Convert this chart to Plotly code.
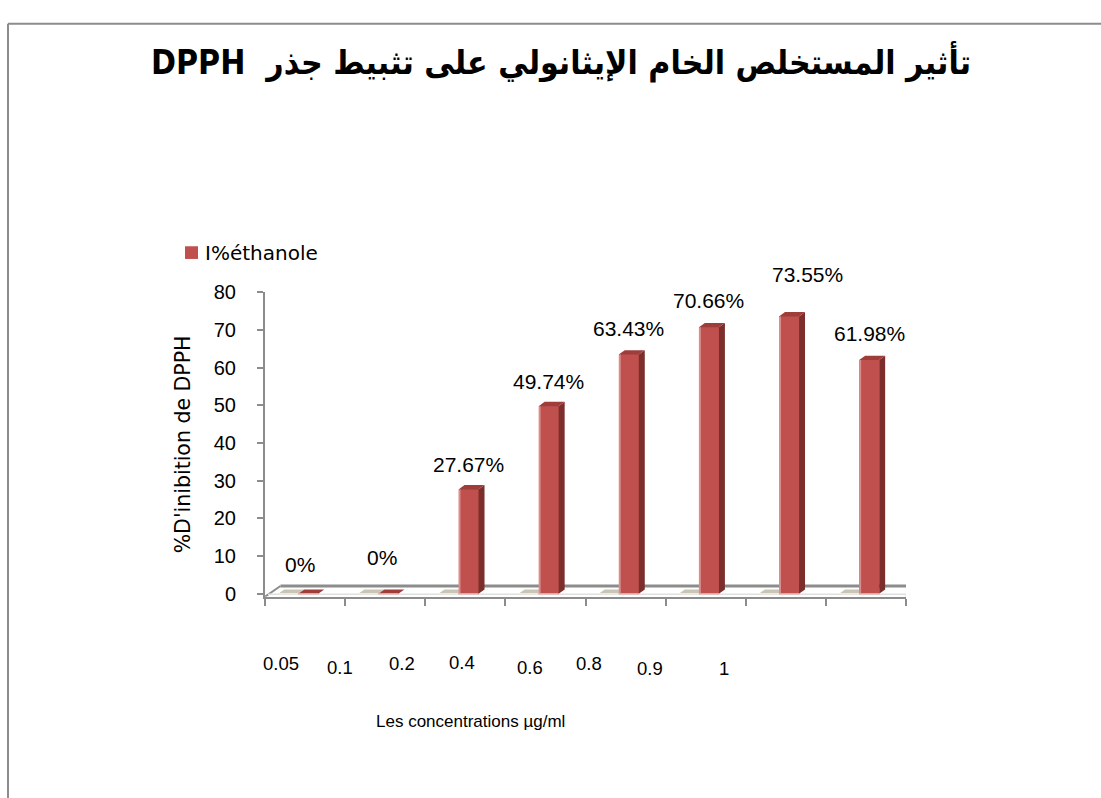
import plotly.graph_objects as go

# ---- data ----
categories = ["0.05", "0.1", "0.2", "0.4", "0.6", "0.8", "0.9", "1"]
inhibition_ethanol = [0, 0, 27.67, 49.74, 63.43, 70.66, 73.55, 61.98]
second_series = [0, 0, 0, 0, 0, 0, 0, 0]
y_ticks = [0, 10, 20, 30, 40, 50, 60, 70, 80]
series_name = "I%éthanole"
title_text = "DPPH  تأثير المستخلص الخام الإيثانولي على تثبيط جذر"
y_title = "%D'inibition de DPPH"
x_title = "Les concentrations µg/ml"

# ---- layout geometry (pixels) ----
W, H = 1101, 798
X_LEFT, X_RIGHT = 265, 906
Y_BOTTOM, Y_TOP = 600, 288
X_RANGE = [-0.5, 7.5]
Y_RANGE = [-0.78, 80]
PX_X = (X_RIGHT - X_LEFT) / (X_RANGE[1] - X_RANGE[0])
PX_Y = (Y_BOTTOM - Y_TOP) / (Y_RANGE[1] - Y_RANGE[0])

RED = "#C0504D"
RED_TOP = "#9E3D3A"
RED_SIDE = "#7B2E2C"
RED_HL = "#D98E8B"
GRAY_TOP = "#C9C4B6"
AXIS = "#8C8C8C"

BAR_W = 0.25
RED_OFF = 0.04
GRAY_OFF = -0.21
DX = 6 / PX_X
DY = 4.5 / PX_Y

# label placement tweaks (pixels)
label_xshift = [-8, -6, 0, 0, 0, 0, 18, 0]
label_yshift = [29, 36, 25, 25, 26, 27, 42, 27]
cat_label_x = [281, 340, 402, 462, 530, 589, 650, 724]
cat_label_y = [668, 672, 668, 667, 673, 668, 674, 674]

idx = list(range(len(categories)))

fig = go.Figure()
fig.add_trace(go.Bar(
    x=[i + RED_OFF for i in idx], y=inhibition_ethanol, width=BAR_W,
    marker=dict(color=RED, line=dict(width=0)), name=series_name,
    showlegend=False, hoverinfo="y",
))

shapes = []
# floor
fl_y = Y_RANGE[0] + 11 / PX_Y
fl_dx = 15.5 / PX_X
shapes.append(dict(type="line", xref="x", yref="y", x0=X_RANGE[0] + fl_dx, x1=X_RANGE[1] + fl_dx,
                   y0=fl_y, y1=fl_y, line=dict(color=AXIS, width=3), layer="below"))
shapes.append(dict(type="line", xref="x", yref="y", x0=X_RANGE[0], x1=X_RANGE[0] + fl_dx,
                   y0=Y_RANGE[0], y1=fl_y, line=dict(color=AXIS, width=2), layer="below"))
shapes.append(dict(type="line", xref="x", yref="y", x0=X_RANGE[1], x1=X_RANGE[1] + fl_dx,
                   y0=Y_RANGE[0], y1=fl_y, line=dict(color=AXIS, width=2), layer="below"))
shapes.append(dict(type="line", xref="x", yref="y", x0=X_RANGE[0] + 3 / PX_X, x1=X_RANGE[1],
                   y0=Y_RANGE[0] + 2.5 / PX_Y, y1=Y_RANGE[0] + 2.5 / PX_Y,
                   line=dict(color="#E0E0E0", width=1.5), layer="below"))

def poly(pts):
    return "M" + " L".join(f"{a},{b}" for a, b in pts) + " Z"

for i, v, g in zip(idx, inhibition_ethanol, second_series):
    # gray (zero) series slab
    gx0 = i + GRAY_OFF - BAR_W / 2
    gx1 = i + GRAY_OFF + BAR_W / 2
    shapes.append(dict(type="path", xref="x", yref="y", layer="below",
                       path=poly([(gx0, g), (gx0 + DX, g + DY), (gx1 + DX, g + DY), (gx1, g)]),
                       fillcolor=GRAY_TOP, line=dict(width=0)))
    shapes.append(dict(type="line", xref="x", yref="y", layer="below", x0=gx0, x1=gx1, y0=g, y1=g,
                       line=dict(color="#EEECE1", width=1.5)))
    # red bar 3D faces
    x0 = i + RED_OFF - BAR_W / 2
    x1 = i + RED_OFF + BAR_W / 2
    shapes.append(dict(type="path", xref="x", yref="y",
                       path=poly([(x1, 0), (x1 + DX, DY), (x1 + DX, v + DY), (x1, v)]),
                       fillcolor=RED_SIDE, line=dict(width=0)))
    shapes.append(dict(type="path", xref="x", yref="y",
                       path=poly([(x0, v), (x0 + DX, v + DY), (x1 + DX, v + DY), (x1, v)]),
                       fillcolor=RED_TOP, line=dict(width=0)))
    if v > 0:
        shapes.append(dict(type="rect", xref="x", yref="y", x0=x0, x1=x0 + 2 / PX_X, y0=0, y1=v,
                           fillcolor=RED_HL, line=dict(width=0)))
    shapes.append(dict(type="line", xref="x", yref="y", x0=x0, x1=x1, y0=0, y1=0,
                       line=dict(color="#E6A8A6", width=1.5)))

# chart border
shapes.append(dict(type="line", xref="paper", yref="paper", x0=8 / W, x1=1.05, y0=1 - 13 / H, y1=1 - 13 / H,
                   line=dict(color=AXIS, width=2)))
shapes.append(dict(type="line", xref="paper", yref="paper", x0=8 / W, x1=8 / W, y0=1 - 13 / H, y1=-0.05,
                   line=dict(color=AXIS, width=2)))
# legend key
shapes.append(dict(type="rect", xref="paper", yref="paper", x0=185 / W, x1=198 / W,
                   y0=1 - 254 / H, y1=1 - 241 / H, fillcolor=RED, line=dict(width=0)))

annotations = []
for i, v, xs, ys in zip(idx, inhibition_ethanol, label_xshift, label_yshift):
    annotations.append(dict(x=i + RED_OFF, y=v, xref="x", yref="y", text=f"{v:g}%",
                            showarrow=False, xanchor="center", yanchor="middle",
                            xshift=xs, yshift=ys,
                            font=dict(family="Liberation Sans, Arial, sans-serif", size=21, color="black")))
for c, px, py in zip(categories, cat_label_x, cat_label_y):
    annotations.append(dict(x=px / W, y=1 - py / H, xref="paper", yref="paper", text=c,
                            showarrow=False, xanchor="center", yanchor="middle",
                            font=dict(family="Liberation Sans, Arial, sans-serif", size=18.5, color="black")))
annotations.append(dict(x=470 / W, y=1 - 728 / H, xref="paper", yref="paper", text=x_title,
                        showarrow=False, xanchor="center", yanchor="middle",
                        font=dict(family="Liberation Sans, Arial, sans-serif", size=17, color="black")))
annotations.append(dict(x=203 / W, y=1 - 248 / H, xref="paper", yref="paper", text=series_name,
                        showarrow=False, xanchor="left", yanchor="middle",
                        font=dict(family="DejaVu Sans, sans-serif", size=20, color="black")))

fig.update_layout(
    width=W, height=H,
    margin=dict(l=0, r=0, t=0, b=0),
    paper_bgcolor="white", plot_bgcolor="white",
    showlegend=False,
    title=dict(text=title_text, x=561 / W, y=1 - 62 / H, xanchor="center", yanchor="middle",
               font=dict(family="DejaVu Sans Condensed, DejaVu Sans, sans-serif", size=33.5, color="black",
                         weight="bold")),
    xaxis=dict(domain=[X_LEFT / W, X_RIGHT / W], range=X_RANGE, showgrid=False, zeroline=False,
               showline=True, linecolor=AXIS, linewidth=2,
               tickmode="array", tickvals=[i - 0.5 for i in idx] + [idx[-1] + 0.5],
               ticks="outside", ticklen=7, tickcolor=AXIS, tickwidth=2, showticklabels=False),
    yaxis=dict(domain=[1 - Y_BOTTOM / H, 1 - Y_TOP / H], range=Y_RANGE, showgrid=False, zeroline=False,
               showline=True, linecolor=AXIS, linewidth=2,
               tickmode="array", tickvals=y_ticks, ticks="outside", ticklen=6, tickcolor=AXIS, tickwidth=2,
               tickfont=dict(family="Liberation Sans, Arial, sans-serif", size=20, color="black"),
               ticklabelstandoff=17,
               title=dict(text=y_title, standoff=18,
                          font=dict(family="DejaVu Sans, sans-serif", size=20.5, color="black"))),
    shapes=shapes,
    annotations=annotations,
    bargap=0,
)

fig.write_html("out.html", config={"displayModeBar": False},
               post_script="document.body.style.margin='0';")
